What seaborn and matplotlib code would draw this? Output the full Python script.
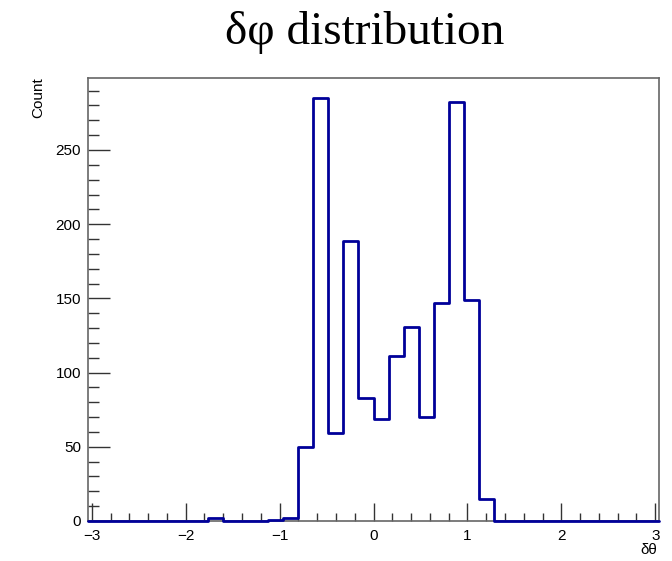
import numpy as np
import matplotlib
matplotlib.use("Agg")
import matplotlib.pyplot as plt
import seaborn as sns
from matplotlib.ticker import MultipleLocator

# bins of width 0.16 from -3.04 to 3.04
bin_edges = [round(-3.04 + 0.16 * k, 2) for k in range(39)]
bin_centers = [round(-2.96 + 0.16 * k, 2) for k in range(38)]
counts = [0, 0, 0, 0, 0, 0, 0, 0, 2, 0, 0, 0, 1, 2,
          50, 285, 59, 189, 83, 69, 111, 131, 70, 147, 282, 149, 15,
          0, 0, 0, 0, 0, 0, 0, 0, 0, 0, 0]

sns.set_style("white")
plt.rcParams['font.family'] = ['Liberation Sans', 'DejaVu Sans']
plt.rcParams['text.color'] = 'black'

fig = plt.figure(figsize=(6.72, 5.61), dpi=100)
ax = fig.add_axes([88 / 672, 40 / 561, (659 - 88) / 672, (521 - 78) / 561])

sns.histplot(x=bin_centers, weights=counts, bins=bin_edges, element="step",
             fill=False, color="#000099", linewidth=2.0, ax=ax,
             zorder=3, clip_on=False)

ax.set_xlim(-3.04, 3.04)
ax.set_ylim(0, 298.5)
ax.xaxis.set_major_locator(MultipleLocator(1))
ax.xaxis.set_minor_locator(MultipleLocator(0.2))
ax.yaxis.set_major_locator(MultipleLocator(50))
ax.yaxis.set_minor_locator(MultipleLocator(10))
ax.tick_params(which="both", direction="in", color="#333333", labelcolor="black",
               width=1, bottom=True, left=True, top=False, right=False, labelsize=11)
ax.tick_params(axis="y", which="major", length=16, pad=5)
ax.tick_params(axis="y", which="minor", length=8)
ax.tick_params(axis="x", which="major", length=13, pad=6)
ax.tick_params(axis="x", which="minor", length=6)
ax.xaxis.set_major_formatter(plt.FuncFormatter(lambda v, p: f"{v:.0f}".replace("-", "\u2212")))

for s in ax.spines.values():
    s.set_color("#666666")
    s.set_linewidth(1.2)

ax.set_xlabel("")
ax.set_ylabel("")
fig.text(657 / 672, 1 - 550 / 561, "δθ", ha="right", va="center", fontsize=11)
fig.text(38 / 672, 1 - 77 / 561, "Count", rotation=90, ha="center", va="top", fontsize=11)
fig.text(365 / 672, 1 - 33 / 561, "δφ distribution", ha="center", va="center",
         fontsize=34, family=["Liberation Serif", "DejaVu Serif"])

fig.savefig("out.png", dpi=100)
